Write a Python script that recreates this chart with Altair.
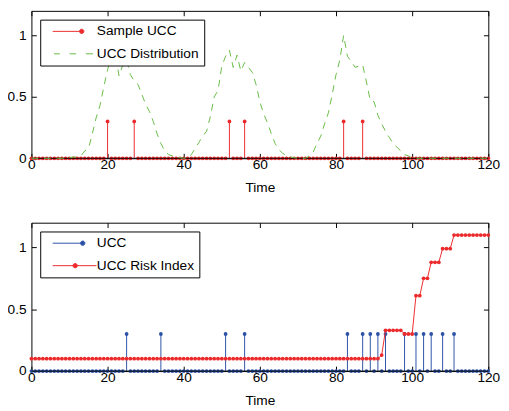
import altair as alt
import pandas as pd

# ---------------- data ----------------
t = list(range(121))

# top panel: sampled UCC events (stem heights) and UCC distribution
sample_times = [20, 27, 52, 56, 82, 87]
sample_height = 0.3

ucc_dist = [
    0, 0, 0, 0, 0, 0, 0, 0, 0, 0,
    0.005, 0.01, 0.01, 0.02, 0.06, 0.08, 0.2, 0.33, 0.43, 0.58,
    0.72, 0.82, 0.86, 0.67, 0.76, 0.8, 0.68, 0.63, 0.6, 0.52,
    0.44, 0.38, 0.3, 0.2, 0.12, 0.06, 0.03, 0.02, 0.01, 0.005,
    0, 0, 0.03, 0.08, 0.13, 0.18, 0.22, 0.34, 0.5, 0.55,
    0.75, 0.83, 0.88, 0.74, 0.84, 0.71, 0.78, 0.74, 0.7, 0.6,
    0.46, 0.36, 0.29, 0.2, 0.12, 0.07, 0.04, 0.02, 0.01, 0.005,
    0, 0, 0, 0.02, 0.05, 0.12, 0.18, 0.28, 0.37, 0.52,
    0.68, 0.8, 1.0, 0.83, 0.79, 0.74, 0.75, 0.76, 0.62, 0.47,
    0.46, 0.35, 0.28, 0.22, 0.17, 0.12, 0.09, 0.06, 0.03, 0.02,
    0, 0, 0, 0, 0, 0, 0, 0, 0, 0,
    0, 0, 0, 0, 0, 0, 0, 0, 0, 0, 0,
]

# bottom panel: UCC events and UCC risk index
ucc_times = [25, 34, 51, 56, 83, 87, 89, 91, 93, 98, 101, 103, 105, 108, 111]
ucc_height = 0.3

risk_index = ([0.1] * 92 + [0.13] + [0.33] * 5 + [0.3] * 3 + [0.61] * 2
              + [0.75] * 2 + [0.88] * 3 + [0.99] * 3 + [1.1] * 10)

top_names = ["Sample UCC", "UCC Distribution"]
bot_names = ["UCC", "UCC Risk Index"]
x_ticks = [0, 20, 40, 60, 80, 100, 120]
y_ticks = [0, 0.5, 1]

# ---------------- styling ----------------
RED = "#ec2a2c"
BLUE = "#2c52a8"
GREEN = "#66bb44"
FONT = "Liberation Sans"
W = 468
H_TOP = 151
H_BOT = 152


def circle(cx, r):
    return (f"M{cx - r},0A{r},{r} 0 1,0 {cx + r},0"
            f"A{r},{r} 0 1,0 {cx - r},0Z")


stem_sym_top = "M0.4,0H15.55" + circle(15.25, 1.1)
dash_sym = "M1.05,0H4.05M9.05,0H12.4M17.4,0H21.05"
stem_sym_bot = "M0.4,0H16.25" + circle(15.75, 1.1)
line_sym_bot = "M0.4,0H22.75" + circle(11.9, 1.1)

xs = alt.Scale(domain=[0, 120], nice=False, zero=False)
ys = alt.Scale(domain=[0, 1.2], nice=False, zero=False)

x_main = alt.Axis(values=x_ticks, format="d", orient="bottom", offset=-5,
                  tickSize=5, domain=False, grid=False, title="Time",
                  labelPadding=0, titlePadding=9, labelFlush=False)
x_mirror = alt.Axis(values=x_ticks, orient="top", offset=-5, tickSize=5,
                    domain=False, grid=False, labels=False, title=None)
y_main = alt.Axis(values=y_ticks, format=".1~f", orient="left", offset=-5,
                  tickSize=5, domain=False, grid=False, title=None,
                  labelPadding=5.5, labelFlush=False)
y_mirror = alt.Axis(values=y_ticks, orient="right", offset=-5, tickSize=5,
                    domain=False, grid=False, labels=False, title=None)


def make_legend():
    return alt.Legend(title=None, orient="top-left", offset=9, padding=5,
                      strokeColor="black", fillColor="white",
                      labelFont=FONT, labelFontSize=14, labelColor="black",
                      labelOffset=39, rowPadding=9, symbolSize=16,
                      symbolStrokeWidth=1, symbolOpacity=1, cornerRadius=0)


def panel(height, event_times, event_height, color, line_values, line_color,
          line_dash, line_points, names, colors, shapes):
    events = set(event_times)
    full = pd.DataFrame({"t": t,
                         "v": [event_height if x in events else 0 for x in t]})
    stems = full[full["v"] > 0]
    curve = pd.DataFrame({"t": t, "v": line_values})
    base = pd.DataFrame({"b": [0]})

    stem_layer = alt.Chart(stems).mark_rule(color=color, strokeWidth=1).encode(
        x=alt.X("t:Q", scale=xs, axis=x_mirror),
        y=alt.Y("v:Q", scale=ys, axis=y_mirror),
        y2=alt.datum(0),
    )
    marker_layer = alt.Chart(full).mark_point(
        filled=True, size=15, color=color, opacity=1
    ).encode(
        x=alt.X("t:Q", scale=xs, axis=x_main),
        y=alt.Y("v:Q", scale=ys, axis=y_main),
    )
    baseline = alt.Chart(base).mark_rule(color="black", strokeWidth=1).encode(
        y=alt.Y("b:Q", scale=ys, axis=None)
    )
    line_kw = dict(color=line_color, strokeWidth=1)
    if line_dash:
        line_kw["strokeDash"] = line_dash
    line_layer = alt.Chart(curve).mark_line(**line_kw).encode(
        x=alt.X("t:Q", scale=xs, axis=None),
        y=alt.Y("v:Q", scale=ys, axis=None),
    )
    layers = [stem_layer, marker_layer, baseline, line_layer]
    if line_points:
        layers.append(
            alt.Chart(curve).mark_point(filled=True, size=15, color=line_color,
                                        opacity=1).encode(
                x=alt.X("t:Q", scale=xs, axis=None),
                y=alt.Y("v:Q", scale=ys, axis=None),
            )
        )
    leg = make_legend()
    carrier = alt.Chart(pd.DataFrame({"series": names})).mark_point(
        filled=True, opacity=0
    ).encode(
        fill=alt.Fill("series:N", scale=alt.Scale(domain=names, range=colors),
                      legend=leg),
        stroke=alt.Stroke("series:N", scale=alt.Scale(domain=names, range=colors),
                          legend=leg),
        shape=alt.Shape("series:N", scale=alt.Scale(domain=names, range=shapes),
                        legend=leg),
    )
    layers.append(carrier)
    return alt.layer(*layers).resolve_axis(x="independent", y="independent") \
        .properties(width=W, height=height)


top = panel(H_TOP, sample_times, sample_height, RED, ucc_dist, GREEN, [7, 6],
            False, top_names, [RED, GREEN], [stem_sym_top, dash_sym])
bottom = panel(H_BOT, ucc_times, ucc_height, BLUE, risk_index, RED, None,
               True, bot_names, [BLUE, RED], [stem_sym_bot, line_sym_bot])

chart = alt.vconcat(top, bottom, spacing=27).resolve_scale(
    fill="independent", stroke="independent", shape="independent"
).resolve_legend(
    fill="independent", stroke="independent", shape="independent"
).configure(
    padding={"left": -2, "top": -3, "right": 0, "bottom": 0},
    background="white",
).configure_view(
    stroke="black", strokeWidth=1
).configure_axis(
    labelFont=FONT, labelFontSize=14, labelColor="black",
    titleFont=FONT, titleFontSize=14, titleFontWeight="normal",
    titleColor="black", tickColor="black", tickWidth=1,
)

chart.save("out.html", embed_options={"renderer": "svg", "actions": False})
